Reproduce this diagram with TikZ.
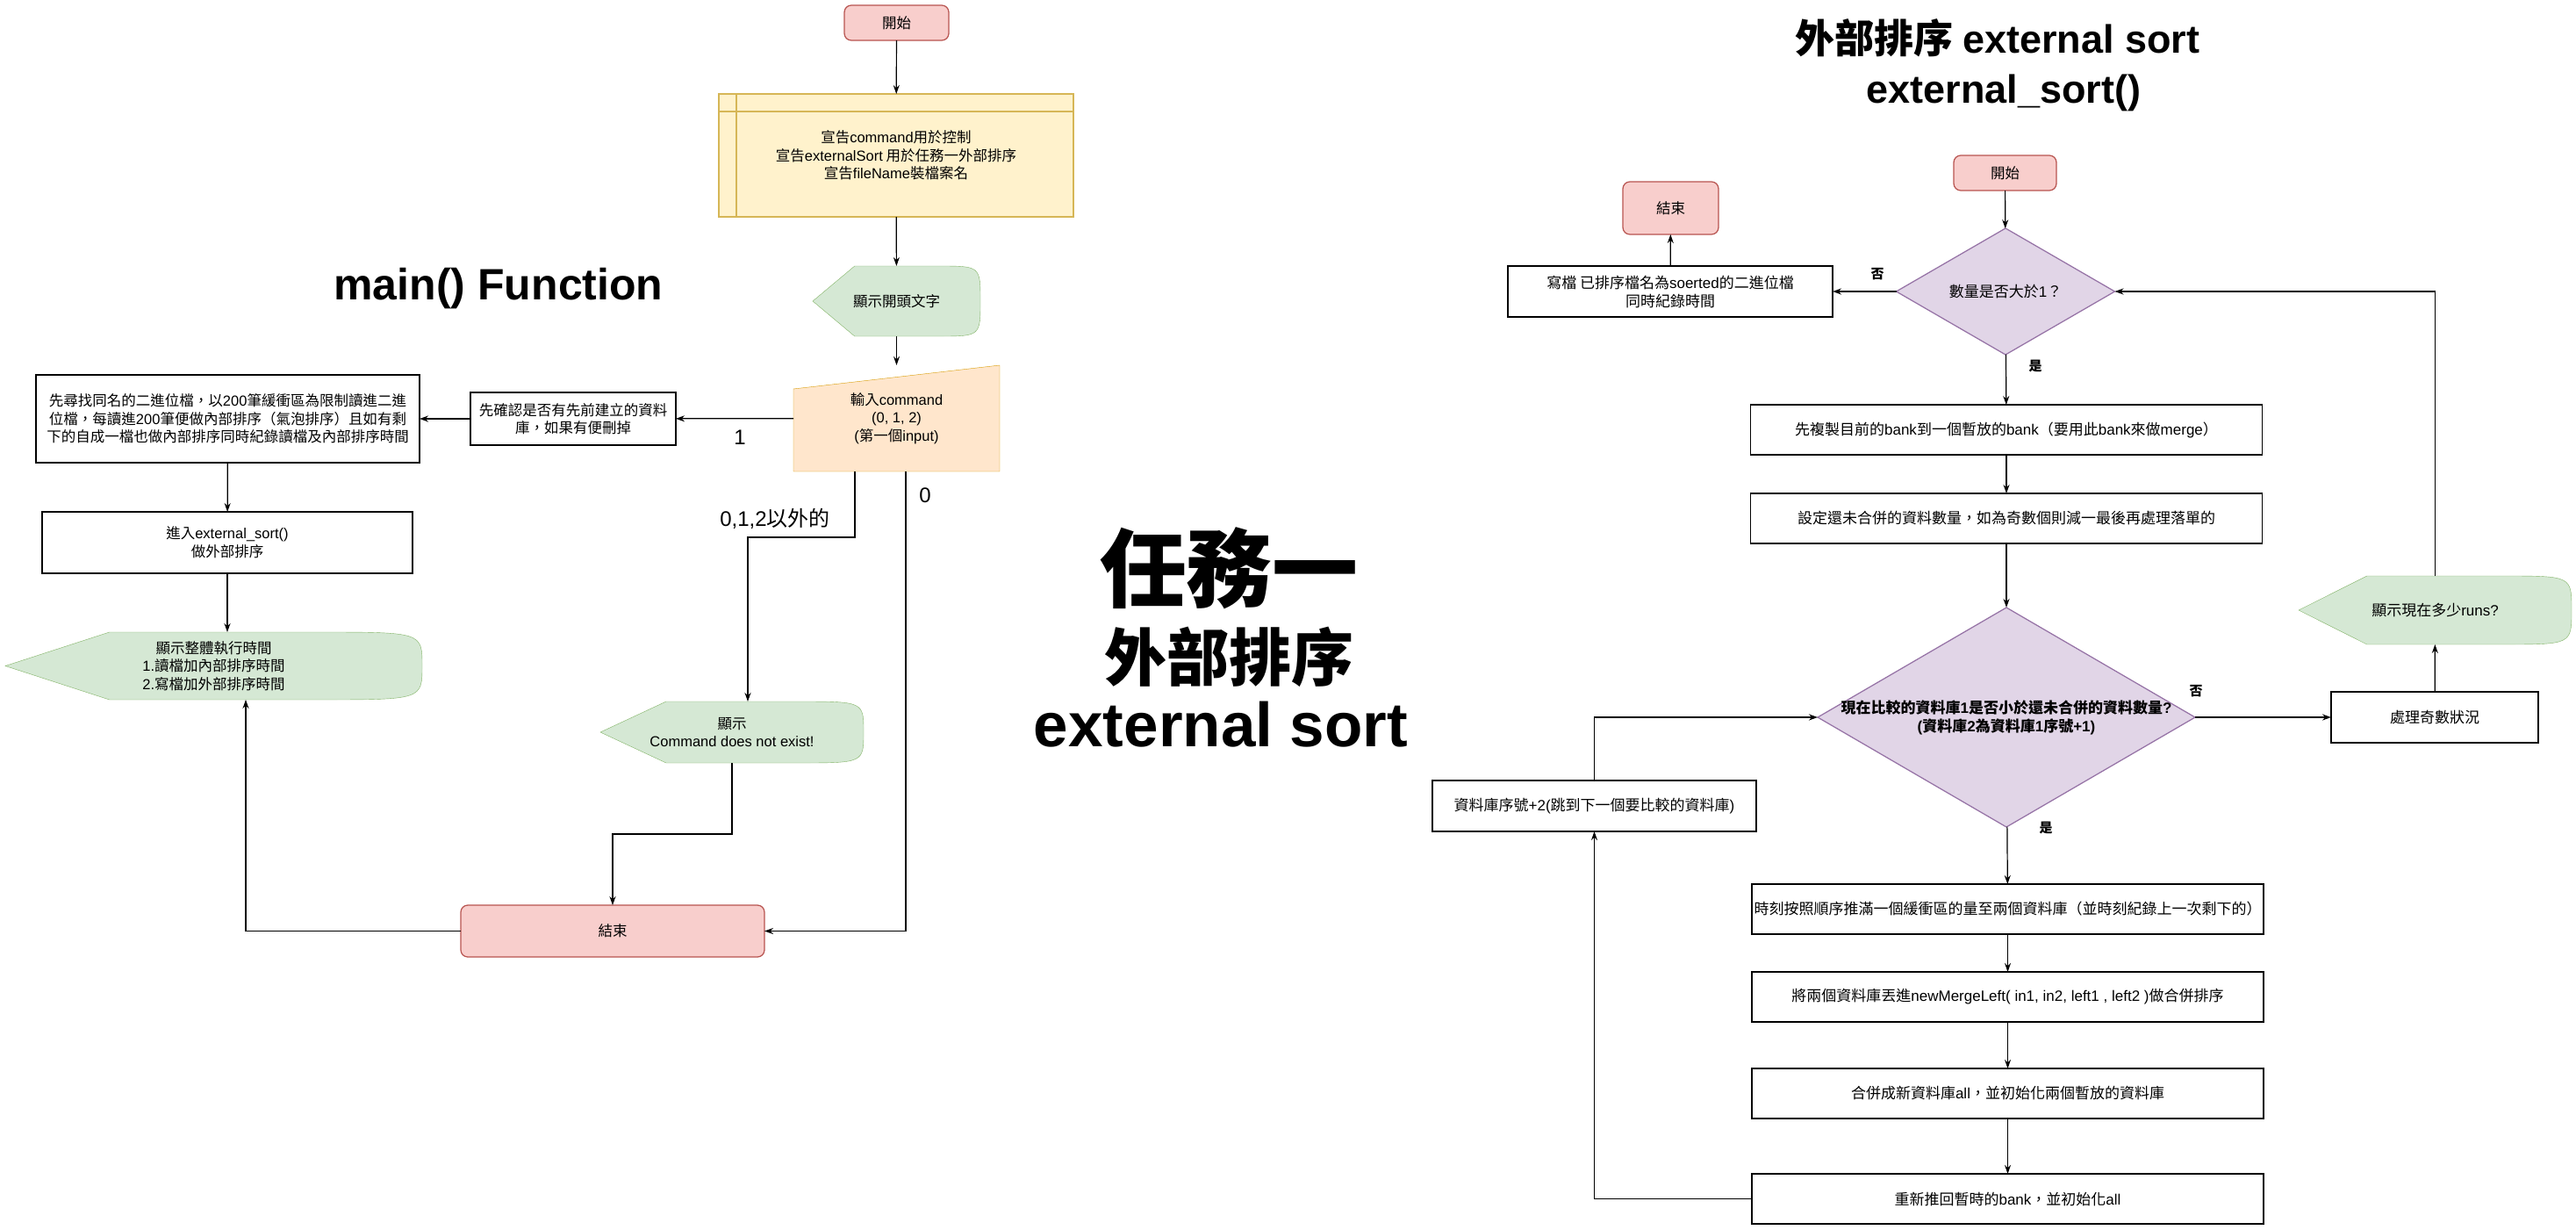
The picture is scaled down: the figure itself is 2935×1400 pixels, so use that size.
\documentclass[tikz,border=0pt]{standalone}
\usepackage{fontspec}
\setmainfont{Noto Sans CJK TC}
\newfontfamily\latf{Liberation Sans}
\usetikzlibrary{arrows.meta,shapes.geometric,backgrounds}
\definecolor{rdF}{HTML}{F8CECC}\definecolor{rdD}{HTML}{B85450}
\definecolor{ylF}{HTML}{FFF2CC}\definecolor{ylD}{HTML}{D6B656}
\definecolor{gnF}{HTML}{D5E8D4}\definecolor{gnD}{HTML}{82B366}
\definecolor{orF}{HTML}{FFE6CC}\definecolor{orD}{HTML}{D79B00}
\definecolor{puF}{HTML}{E1D5E7}\definecolor{puD}{HTML}{9673A6}
\newcommand\boxfont{\fontsize{16.5}{20.5}\selectfont}
\newcommand\rboxfont{\fontsize{17}{21}\selectfont}
\newcommand\ltn[1]{{\latf #1}}
\newcommand\dispshape[2]{\draw[draw=gnD,fill=gnF] (#1.west) -- ([xshift=#2pt]#1.north west) -- ([xshift=-#2pt]#1.north east) .. controls (#1.north east) .. (#1.east) .. controls (#1.south east) .. ([xshift=-#2pt]#1.south east) -- ([xshift=#2pt]#1.south west) -- cycle;}

\begin{document}
\begin{tikzpicture}[x=1pt,y=-1pt,line width=1.25pt,
  arr/.style={-{Stealth[length=10pt,width=7pt]},line width=1.2pt},
  term/.style={draw=rdD,fill=rdF,rounded corners=8pt,inner sep=0,outer sep=0,font=\boxfont},
  proc/.style={draw,fill=white,inner sep=0,outer sep=0,align=center,font=\boxfont},
  disp/.style={inner sep=0,outer sep=0,align=center,font=\boxfont},
  dec/.style={diamond,draw=puD,fill=puF,inner sep=0,outer sep=0},
  lbl/.style={font=\fontsize{24}{28}\selectfont},
  yn/.style={font=\fontsize{15}{18}\selectfont\bfseries}]
\useasboundingbox (0,0) rectangle (2935,1400);
\node[term,minimum width=119,minimum height=40] (s1) at (1021.5,26) {開始};
\node[proc,draw=ylD,fill=ylF,minimum width=404,minimum height=140] (decl) at (1021,177) {宣告\ltn{command}用於控制\\宣告\ltn{externalSort} 用於任務一外部排序\\宣告\ltn{fileName}裝檔案名};
\draw[ylD] ([yshift=-20pt]decl.north west) -- ([yshift=-20pt]decl.north east) ([xshift=20pt]decl.north west) -- ([xshift=20pt]decl.south west);
\node[disp,minimum width=191,minimum height=80] (d1) at (1021.5,343) {顯示開頭文字};
\node[disp,minimum width=235,minimum height=121] (inp) at (1021.5,476.5) {輸入\ltn{command}\\\ltn{(0, 1, 2)}\\\ltn{(}第一個\ltn{input)}};
\node[proc,minimum width=234,minimum height=60] (conf) at (653,477) {先確認是否有先前建立的資料\\庫，如果有便刪掉};
\node[proc,minimum width=437,minimum height=100] (box1) at (259.5,477) {先尋找同名的二進位檔，以\ltn{200}筆緩衝區為限制讀進二進\\位檔，每讀進\ltn{200}筆便做內部排序（氣泡排序）且如有剩\\下的自成一檔也做內部排序同時紀錄讀檔及內部排序時間};
\node[proc,minimum width=422,minimum height=70] (box2) at (259,618) {進入\ltn{external\_sort()}\\做外部排序};
\node[disp,minimum width=475,minimum height=77] (d3) at (243.5,758.5) {顯示整體執行時間\\\ltn{1.}讀檔加內部排序時間\\\ltn{2.}寫檔加外部排序時間};
\node[disp,minimum width=300,minimum height=70] (d2) at (834,834) {顯示\\\ltn{Command does not exist!}};
\node[term,minimum width=346,minimum height=59] (e1) at (698,1060.5) {結束};
\node[lbl] (n1) at (843,498) {\ltn{1}};
\node[lbl] (n0) at (1054,564) {\ltn{0}};
\node[lbl] (nx) at (883,591) {\ltn{0,1,2}以外的};
\node[anchor=base,font=\fontsize{50}{60}\selectfont\latf\bfseries] (tmain) at (568,341.5) {main() Function};
\node[anchor=base,font=\fontsize{98}{110}\selectfont\bfseries] (big1) at (1400,684) {任務一};
\node[anchor=base,font=\fontsize{71}{80}\selectfont\bfseries] (big2) at (1400,775) {外部排序};
\node[anchor=base,font=\fontsize{71}{80}\selectfont\latf\bfseries] (big3) at (1391,850) {external sort};
\node[anchor=base,font=\fontsize{45}{54}\selectfont\bfseries] (rt1) at (2276,60) {外部排序 \ltn{external sort}};
\node[anchor=base,font=\fontsize{45}{54}\selectfont\latf\bfseries] (rt2) at (2283,117.5) {external\_sort()};
\node[term,minimum width=117,minimum height=40] (s2) at (2284.5,197) {開始};
\node[term,minimum width=109,minimum height=60] (e2) at (1903.5,237) {結束};
\node[proc,font=\rboxfont,minimum width=370,minimum height=58] (wr) at (1903,332) {寫檔 已排序檔名為\ltn{soerted}的二進位檔\\同時紀錄時間};
\node[dec,minimum width=249,minimum height=144] (q1) at (2285,332) {};
\node[font=\rboxfont] (q1t) at (q1) {數量是否大於\ltn{1}？};
\node[proc,font=\rboxfont,minimum width=583,minimum height=57] (cp) at (2286,489.5) {先複製目前的\ltn{bank}到一個暫放的\ltn{bank}（要用此\ltn{bank}來做\ltn{merge}）};
\node[proc,font=\rboxfont,minimum width=583,minimum height=57] (st) at (2286,590.5) {設定還未合併的資料數量，如為奇數個則減一最後再處理落單的};
\node[dec,minimum width=430,minimum height=250] (q2) at (2286,817) {};
\node[font=\rboxfont\bfseries,align=center] (q2t) at (q2) {現在比較的資料庫\ltn{1}是否小於還未合併的資料數量\ltn{?}\\\ltn{(}資料庫\ltn{2}為資料庫\ltn{1}序號\ltn{+1)}};
\node[disp,font=\rboxfont,minimum width=311,minimum height=78] (runs) at (2774.5,695) {顯示現在多少\ltn{runs?}};
\node[proc,font=\rboxfont,minimum width=236,minimum height=58] (odd) at (2774,817) {處理奇數狀況};
\node[proc,font=\rboxfont,minimum width=369,minimum height=58] (inc) at (1816.5,918) {資料庫序號\ltn{+2(}跳到下一個要比較的資料庫\ltn{)}};
\node[proc,font=\rboxfont,minimum width=583,minimum height=57] (t1) at (2287.5,1035.5) {時刻按照順序推滿一個緩衝區的量至兩個資料庫（並時刻紀錄上一次剩下的）};
\node[proc,font=\rboxfont,minimum width=583,minimum height=57] (t2) at (2287.5,1135.5) {將兩個資料庫丟進\ltn{newMergeLeft( in1, in2, left1 , left2 )}做合併排序};
\node[proc,font=\rboxfont,minimum width=583,minimum height=57] (t3) at (2287.5,1245.5) {合併成新資料庫\ltn{all}，並初始化兩個暫放的資料庫};
\node[proc,font=\rboxfont,minimum width=583,minimum height=57] (t4) at (2287.5,1365.5) {重新推回暫時的\ltn{bank}，並初始化\ltn{all}};
\node[yn] (no1) at (2139,312) {否};
\node[yn] (yes1) at (2319,417) {是};
\node[yn] (no2) at (2502,787) {否};
\node[yn] (yes2) at (2331,943) {是};
\draw[arr] (s1) -- (decl);
\draw[arr] (decl) -- (d1);
\draw[arr] (d1) -- (inp);
\draw[arr] (inp) -- (conf);
\draw[arr] (conf) -- (box1);
\draw[arr] (box1) -- (box2);
\draw[arr] (box2.south) -- (box2.south |- d3.north);
\draw[arr] ([xshift=-47.5pt]inp.south) -- ++(0,75) -| ([xshift=18pt]d2.north);
\draw[arr] ([xshift=10.5pt]inp.south) |- (e1.east);
\draw[arr] (d2.south) -- ++(0,81) -| (e1.north);
\draw[arr] (e1.west) -| ([xshift=36.5pt]d3.south);
\draw[arr] (s2) -- (q1);
\draw[arr] (q1) -- (wr);
\draw[arr] (wr) -- (e2);
\draw[arr] (q1) -- (cp);
\draw[arr] (cp) -- (st);
\draw[arr] (st) -- (q2);
\draw[arr] (q2) -- (odd);
\draw[arr] (odd) -- (runs);
\draw[arr] (runs.north) |- (q1.east);
\draw[arr] (q2) -- (t1);
\draw[arr] (t1) -- (t2);
\draw[arr] (t2) -- (t3);
\draw[arr] (t3) -- (t4);
\draw[arr] (t4.west) -| (inc.south);
\draw[arr] (inc.north) |- (q2.west);
\begin{scope}[on background layer]
\dispshape{d1}{47.75}
\dispshape{d2}{75}
\dispshape{d3}{118.75}
\dispshape{runs}{77.75}
\draw[draw=orD,fill=orF] (inp.south west) -- ([yshift=-27pt]inp.north west) -- (inp.north east) -- (inp.south east) -- cycle;
\end{scope}
\end{tikzpicture}
\end{document}
